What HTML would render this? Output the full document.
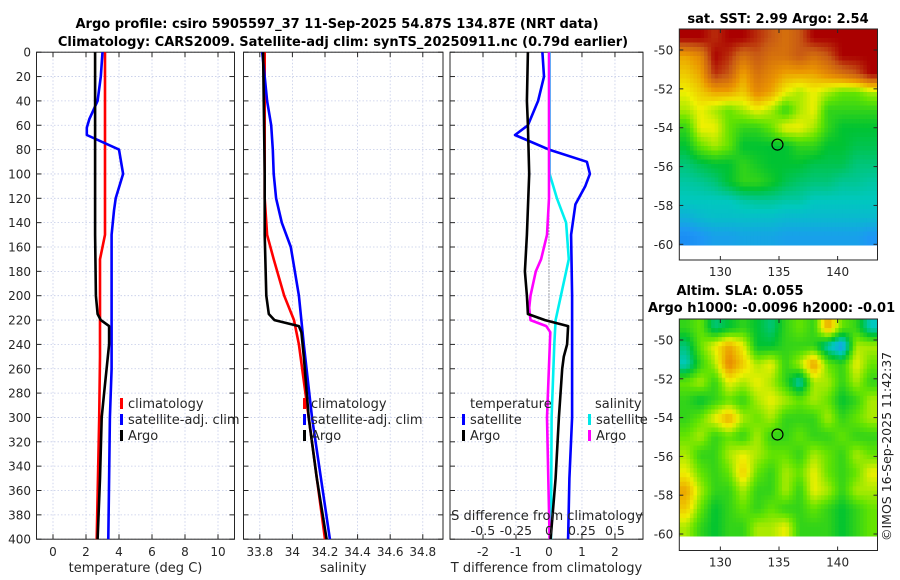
<!DOCTYPE html>
<html><head><meta charset="utf-8"><style>
body{margin:0;background:#fff;}
svg{display:block;font-family:"DejaVu Sans","Liberation Sans",sans-serif;}
</style></head><body>
<svg id="fig" width="900" height="580" viewBox="0 0 900 580" xmlns="http://www.w3.org/2000/svg">
<rect width="900" height="580" fill="#fff"/>
<text x="337" y="28" text-anchor="middle" font-size="13" font-weight="bold">Argo profile: csiro 5905597_37 11-Sep-2025 54.87S 134.87E (NRT data)</text>
<text x="343" y="46" text-anchor="middle" font-size="13" font-weight="bold">Climatology: CARS2009. Satellite-adj clim: synTS_20250911.nc (0.79d earlier)</text>
<text x="778" y="23" text-anchor="middle" font-size="13" font-weight="bold">sat. SST: 2.99 Argo: 2.54</text>
<text x="740" y="295" text-anchor="middle" font-size="13" font-weight="bold">Altim. SLA: 0.055</text>
<text x="648" y="312" font-size="13" font-weight="bold">Argo h1000: -0.0096 h2000: -0.01</text>
<text transform="translate(891,541) rotate(-90)" font-size="12.5" fill="#222">©IMOS 16-Sep-2025 11:42:37</text>
<g id="plots"></g>
</svg>
<script>
// ---- data ----
const depthTicks=[0,20,40,60,80,100,120,140,160,180,200,220,240,260,280,300,320,340,360,380,400];
const tTicks=[0,2,4,6,8,10];
const sTicks=[33.8,34,34.2,34.4,34.6,34.8];
const sTickLabels=["33.8","34","34.2","34.4","34.6","34.8"];
const dTicks=[-2,-1,0,1,2];
const dsTicks=[-0.5,-0.25,0,0.25,0.5];
const dsTickLabels=["-0.5","-0.25","0","0.25","0.5"];
// temperature panel  [depth, value]
const tempArgo=[[0,2.55],[50,2.55],[100,2.55],[150,2.55],[200,2.6],[215,2.7],[220,2.9],[225,3.4],[240,3.4],[260,3.25],[280,3.1],[300,2.95],[350,2.85],[400,2.7]];
const tempClim=[[0,3.15],[100,3.15],[150,3.15],[160,3.0],[170,2.85],[200,2.85],[250,2.85],[300,2.8],[400,2.65]];
const tempSat=[[0,3.0],[20,2.9],[40,2.7],[55,2.2],[62,2.05],[68,2.05],[80,4.0],[100,4.25],[120,3.8],[130,3.7],[150,3.55],[200,3.55],[260,3.55],[300,3.45],[400,3.35]];
// salinity panel
const salArgo=[[0,33.82],[50,33.825],[100,33.83],[150,33.83],[200,33.84],[215,33.855],[220,33.89],[225,34.04],[230,34.055],[250,34.07],[300,34.1],[350,34.15],[400,34.21]];
const salClim=[[0,33.83],[120,33.83],[150,33.845],[170,33.885],[200,33.95],[220,34.01],[240,34.04],[300,34.1],[400,34.2]];
const salSat=[[0,33.815],[20,33.83],[40,33.845],[60,33.87],[80,33.88],[100,33.885],[120,33.9],[140,33.935],[160,33.99],[200,34.04],[240,34.07],[300,34.12],[400,34.23]];
// difference panel
const dT_Argo=[[0,-0.64],[40,-0.67],[60,-0.64],[100,-0.6],[150,-0.67],[180,-0.73],[200,-0.67],[215,-0.64],[220,-0.12],[225,0.58],[240,0.55],[250,0.45],[260,0.4],[300,0.3],[350,0.2],[400,0.05]];
const dT_Sat=[[0,-0.2],[20,-0.15],[40,-0.33],[60,-0.64],[68,-1.03],[80,0.0],[90,1.15],[100,1.24],[110,1.1],[125,0.8],[150,0.67],[200,0.7],[250,0.7],[300,0.7],[350,0.62],[400,0.58]];
const dS_Sat=[[0,0.005],[100,0.005],[120,0.06],[140,0.13],[170,0.15],[200,0.09],[220,0.05],[240,0.04],[300,0.02],[400,0.015]];
const dS_Argo=[[0,0],[120,0],[150,-0.015],[170,-0.06],[180,-0.1],[200,-0.14],[210,-0.15],[220,-0.14],[225,-0.02],[230,0.01],[300,-0.015],[400,0.005]];
// maps (rows north->south)
const sstGrid=[
[0.95,0.95,0.9,0.95,0.95,0.9,0.85,0.8,0.85,0.95,0.95,0.95,0.95,0.95],
[0.7,0.75,0.95,0.9,0.8,0.85,0.8,0.8,0.85,0.8,0.85,0.95,0.95,0.95],
[0.65,0.7,0.9,0.85,0.7,0.8,0.75,0.7,0.7,0.7,0.75,0.8,0.85,0.95],
[0.6,0.65,0.7,0.7,0.65,0.75,0.7,0.6,0.55,0.6,0.55,0.5,0.5,0.55],
[0.55,0.6,0.55,0.5,0.55,0.6,0.55,0.45,0.55,0.6,0.45,0.45,0.45,0.45],
[0.45,0.6,0.6,0.5,0.45,0.45,0.5,0.6,0.6,0.55,0.45,0.4,0.4,0.4],
[0.4,0.5,0.55,0.5,0.4,0.4,0.4,0.4,0.45,0.45,0.4,0.4,0.38,0.38],
[0.35,0.38,0.4,0.4,0.45,0.42,0.4,0.4,0.4,0.38,0.38,0.38,0.35,0.35],
[0.32,0.33,0.35,0.4,0.45,0.45,0.42,0.38,0.36,0.35,0.35,0.33,0.33,0.32],
[0.3,0.3,0.3,0.3,0.32,0.33,0.33,0.32,0.32,0.3,0.3,0.3,0.3,0.3],
[0.25,0.27,0.28,0.28,0.28,0.28,0.28,0.27,0.27,0.27,0.27,0.27,0.27,0.27],
[0.18,0.2,0.22,0.22,0.23,0.23,0.23,0.22,0.22,0.22,0.22,0.22,0.22,0.2]];
const slaGrid=[
[0.45,0.5,0.35,0.4,0.45,0.4,0.35,0.45,0.5,0.45,0.7,0.5,0.45,0.3],
[0.35,0.5,0.6,0.7,0.6,0.4,0.4,0.45,0.45,0.45,0.3,0.2,0.55,0.55],
[0.3,0.45,0.55,0.75,0.65,0.55,0.6,0.45,0.55,0.72,0.5,0.45,0.6,0.5],
[0.5,0.55,0.45,0.6,0.55,0.6,0.55,0.45,0.3,0.55,0.55,0.45,0.55,0.45],
[0.45,0.4,0.45,0.5,0.45,0.55,0.6,0.55,0.5,0.55,0.5,0.4,0.45,0.55],
[0.45,0.5,0.6,0.7,0.55,0.5,0.55,0.45,0.45,0.45,0.55,0.45,0.5,0.55],
[0.5,0.55,0.45,0.5,0.45,0.55,0.45,0.45,0.5,0.45,0.45,0.5,0.45,0.45],
[0.55,0.45,0.45,0.55,0.6,0.55,0.5,0.5,0.45,0.55,0.5,0.45,0.55,0.5],
[0.6,0.5,0.45,0.5,0.65,0.5,0.45,0.55,0.5,0.6,0.5,0.45,0.5,0.6],
[0.7,0.55,0.45,0.45,0.55,0.45,0.45,0.55,0.45,0.6,0.55,0.45,0.55,0.55],
[0.65,0.5,0.4,0.45,0.5,0.45,0.5,0.45,0.45,0.5,0.45,0.4,0.45,0.5],
[0.55,0.45,0.4,0.45,0.45,0.55,0.55,0.6,0.45,0.45,0.45,0.4,0.45,0.5]];
const lonTicks=[130,135,140];
const latTicks=[-50,-52,-54,-56,-58,-60];
const argoPos=[134.87,-54.87];

// ---- drawing ----
const NS="http://www.w3.org/2000/svg";
const G=document.getElementById('plots');
function mk(tag,at,parent){const e=document.createElementNS(NS,tag);for(const k in at)e.setAttribute(k,at[k]);(parent||G).appendChild(e);return e;}
const Y0=52.2,YS=1.2175;
const yD=d=>Y0+d*YS;
function scale(d0,d1,p0,p1){return v=>p0+(v-d0)*(p1-p0)/(d1-d0);}
const panels=[
 {x0:36.5,x1:234.5,sx:scale(-1,11,36.5,234.5),ticks:tTicks,labels:tTicks.map(String),xlabel:"temperature (deg C)",name:"temperature"},
 {x0:243.5,x1:443,sx:scale(33.7,34.924,243.5,443),ticks:sTicks,labels:sTickLabels,xlabel:"salinity",name:"salinity"},
 {x0:450,x1:643,sx:scale(-3,2.85,450,643),ticks:dTicks,labels:dTicks.map(String),xlabel:"T difference from climatology",name:"difference"}];
panels.forEach(p=>{
  const g=mk('g',{});
  
  
  const yb=yD(400);
  depthTicks.forEach(d=>{mk('line',{x1:p.x0,x2:p.x1,y1:yD(d),y2:yD(d),stroke:'#c4cbe8','stroke-width':0.8,'stroke-dasharray':'1.5,2'},g);
    mk('line',{x1:p.x0,x2:p.x0+5,y1:yD(d),y2:yD(d),stroke:'#262626'},g);mk('line',{x1:p.x1-5,x2:p.x1,y1:yD(d),y2:yD(d),stroke:'#262626'},g);});
  p.ticks.forEach((t,i)=>{const x=p.sx(t);mk('line',{x1:x,x2:x,y1:Y0,y2:yb,stroke:'#c4cbe8','stroke-width':0.8,'stroke-dasharray':'1.5,2'},g);
    mk('line',{x1:x,x2:x,y1:Y0,y2:Y0+5,stroke:'#262626'},g);mk('line',{x1:x,x2:x,y1:yb-5,y2:yb,stroke:'#262626'},g);
    const tl=mk('text',{x:x,y:yb+17,'text-anchor':'middle','font-size':12,fill:'#262626'},g);tl.textContent=p.labels[i];
    
    });
  mk('rect',{x:p.x0,y:Y0,width:p.x1-p.x0,height:yb-Y0,fill:'none',stroke:'#262626','stroke-width':1},g);
  const xl=mk('text',{x:(p.x0+p.x1)/2,y:572,'text-anchor':'middle','font-size':13,fill:'#262626'},g);xl.textContent=p.xlabel;
  
  
  p.g=g;
});
depthTicks.forEach(d=>{const t=mk('text',{x:31,y:yD(d)+4.5,'text-anchor':'end','font-size':12,fill:'#262626'});t.textContent=d;
  
  });
function line(p,data,col,name,sx){const f=sx||p.sx;const e=mk('polyline',{points:data.map(q=>f(q[1]).toFixed(1)+','+yD(q[0]).toFixed(1)).join(' '),fill:'none',stroke:col,'stroke-width':2.6,'stroke-linejoin':'round'},p.g);
  
  }
line(panels[0],tempClim,'#ff0000','temp-climatology-line');
line(panels[0],tempSat,'#0000ff','temp-satellite-line');
line(panels[0],tempArgo,'#000','temp-argo-line');
line(panels[1],salClim,'#ff0000','sal-climatology-line');
line(panels[1],salSat,'#0000ff','sal-satellite-line');
line(panels[1],salArgo,'#000','sal-argo-line');
const sxS=scale(-0.75,0.7125,450,643);
mk('line',{x1:panels[2].sx(0),x2:panels[2].sx(0),y1:yD(75),y2:yD(225),stroke:'#555','stroke-width':1,'stroke-dasharray':'1,2'},panels[2].g);
line(panels[2],dS_Sat,'#00f0f0','sal-diff-satellite-line',sxS);
line(panels[2],dT_Sat,'#0000ff','temp-diff-satellite-line');
line(panels[2],dS_Argo,'#ff00ff','sal-diff-argo-line',sxS);
line(panels[2],dT_Argo,'#000','temp-diff-argo-line');
const st=mk('text',{x:547,y:520,'text-anchor':'middle','font-size':13,fill:'#262626'});st.textContent='S difference from climatology';


dsTicks.forEach((t,i)=>{const e=mk('text',{x:sxS(t),y:535,'text-anchor':'middle','font-size':12.5,fill:'#262626'});e.textContent=dsTickLabels[i];
  
  });
function legend(x,y,items,gname){const g=mk('g',{});
  
  
  items.forEach((it,i)=>{const yy=y+i*16;
  if(it[1])mk('rect',{x:x,y:yy-9,width:3,height:11,fill:it[1]},g);
  const t=mk('text',{x:x+(it[1]?8:0),y:yy+1,'font-size':13,fill:'#262626'},g);t.textContent=it[0];});}
legend(120,407,[['climatology','#ff0000'],['satellite-adj. clim','#0000ff'],['Argo','#000']],'temperature-legend');
legend(303,407,[['climatology','#ff0000'],['satellite-adj. clim','#0000ff'],['Argo','#000']],'salinity-legend');
legend(470,407,[['temperature',null]],'t-diff-legend-title');
legend(462,423,[['satellite','#0000ff'],['Argo','#000']],'t-diff-legend');
legend(595,407,[['salinity',null]],'s-diff-legend-title');
legend(588,423,[['satellite','#00e8e8'],['Argo','#ff00ff']],'s-diff-legend');

// maps
const stops=[[0,[0,70,230]],[0.2,[30,150,245]],[0.3,[0,200,190]],[0.4,[0,195,50]],[0.5,[100,228,0]],[0.6,[240,240,0]],[0.72,[235,150,0]],[0.85,[200,90,20]],[0.95,[170,0,0]],[1,[160,0,0]]];
function cmap(v){for(let i=1;i<stops.length;i++){if(v<=stops[i][0]){const a=stops[i-1],b=stops[i],t=(v-a[0])/(b[0]-a[0]);return 'rgb('+a[1].map((c,k)=>Math.round(c+(b[1][k]-c)*t)).join(',')+')';}}return 'rgb(160,0,0)';}
function sample(grid,fy,fx){const R=grid.length,C=grid[0].length;
  const y=Math.max(0,Math.min(R-1,fy)),x=Math.max(0,Math.min(C-1,fx));
  const i=Math.floor(y),j=Math.floor(x),i2=Math.min(R-1,i+1),j2=Math.min(C-1,j+1),ty=y-i,tx=x-j;
  return grid[i][j]*(1-ty)*(1-tx)+grid[i][j2]*(1-ty)*tx+grid[i2][j]*ty*(1-tx)+grid[i2][j2]*ty*tx;}
function map(grid,ax,name){const g=mk('g',{});
  
  
  const sx=scale(126.5,143.4,ax.x0,ax.x1),sy=scale(-50,-60,ax.lat50,ax.lat60);
  const rows=grid.length,cols=grid[0].length,SUB=4;
  const cw=(ax.x1-ax.x0)/(cols*SUB),ch=(ax.imgB-ax.y0)/(rows*SUB);
  for(let i=0;i<rows*SUB;i++)for(let j=0;j<cols*SUB;j++){
    const v=sample(grid,(i+0.5)/SUB-0.5,(j+0.5)/SUB-0.5);
    mk('rect',{x:(ax.x0+j*cw).toFixed(2),y:(ax.y0+i*ch).toFixed(2),width:(cw+0.5).toFixed(2),height:(ch+0.5).toFixed(2),fill:cmap(v)},g);}
  mk('rect',{x:ax.x0,y:ax.y0,width:ax.x1-ax.x0,height:ax.y1-ax.y0,fill:'none',stroke:'#262626'},g);
  latTicks.forEach(l=>{const y=sy(l);mk('line',{x1:ax.x0,x2:ax.x0+4,y1:y,y2:y,stroke:'#262626'},g);mk('line',{x1:ax.x1-4,x2:ax.x1,y1:y,y2:y,stroke:'#262626'},g);
    const t=mk('text',{x:ax.x0-6,y:y+4.5,'text-anchor':'end','font-size':12,fill:'#262626'},g);t.textContent=l;});
  lonTicks.forEach(l=>{const x=sx(l);mk('line',{x1:x,x2:x,y1:ax.y1-4,y2:ax.y1,stroke:'#262626'},g);mk('line',{x1:x,x2:x,y1:ax.y0,y2:ax.y0+4,stroke:'#262626'},g);
    const t=mk('text',{x:x,y:ax.y1+16,'text-anchor':'middle','font-size':12,fill:'#262626'},g);t.textContent=l;});
  const c=mk('circle',{cx:sx(argoPos[0]),cy:sy(argoPos[1]),r:5.5,fill:'none',stroke:'#000','stroke-width':1.2},g);
  
  }
map(sstGrid,{x0:679.3,x1:877.5,y0:29,y1:260,imgB:245,lat50:50,lat60:244.3},'sst-map');
map(slaGrid,{x0:679.3,x1:877.5,y0:319,y1:550.5,imgB:536,lat50:340,lat60:534},'sla-map');
</script>
</body></html>
